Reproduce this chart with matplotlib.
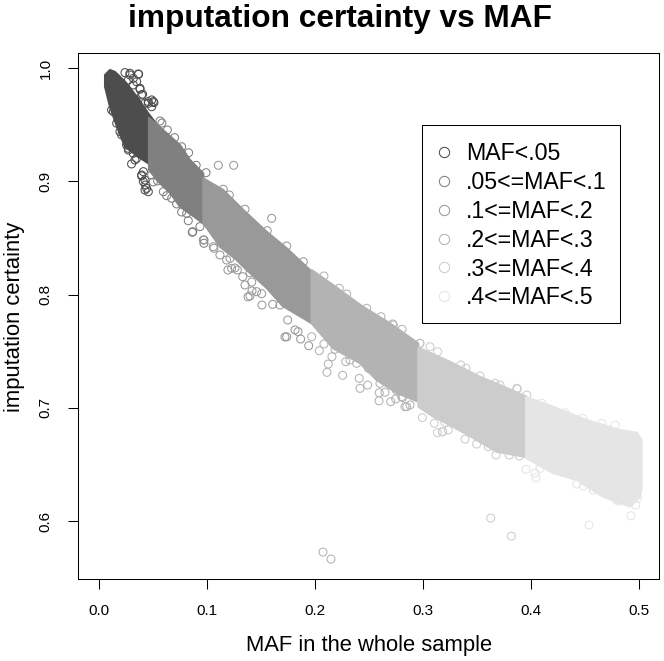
import matplotlib
matplotlib.use('Agg')
import matplotlib.pyplot as plt
from matplotlib.patches import Rectangle

plt.rcParams['font.family'] = ['Liberation Sans', 'DejaVu Sans']

labels = ['MAF<.05', '.05<=MAF<.1', '.1<=MAF<.2', '.2<=MAF<.3', '.3<=MAF<.4', '.4<=MAF<.5']
greys = ['#4d4d4d', '#808080', '#999999', '#b3b3b3', '#cccccc', '#e5e5e5']

# outline of the dense band of each group
top_x = [
    [.0056, .0102, .0148, .0241, .0364, .0456, .052],
    [.0463, .0627, .075, .0843, .0966],
    [.0966, .1151, .1336, .1553, .1738, .1954],
    [.1969, .2167, .2444, .2694, .2956],
    [.2956, .2972, .325, .3528, .3713, .396],
    [.3954, .4204, .4516, .4824, .4979, .5025],
]
top_y = [
    [.9938, .9982, .9965, .988, .973, .96, .952],
    [.956, .9424, .932, .9188, .907],
    [.9026, .8923, .8747, .8555, .8409, .8217],
    [.8217, .8085, .7893, .7747, .757],
    [.7526, .7526, .7408, .7275, .7202, .7099],
    [.7096, .7011, .6893, .6805, .6781, .6717],
]
low_x = [
    [.0056, .0102, .0167, .0241, .0364, .0456, .052],
    [.0463, .0565, .0657, .075, .0966],
    [.0966, .112, .1275, .1368, .1553, .17, .1969],
    [.1969, .2167, .2417, .2571, .2756, .2956],
    [.2956, .3095, .325, .3497, .3682, .3954],
    [.3954, .4204, .4423, .4667, .4917, .5009, .5025],
]
low_y = [
    [.9835, .9658, .9482, .9305, .9217, .9159, .912],
    [.91, .8982, .89, .8776, .863],
    [.8632, .8423, .8305, .8217, .8058, .79, .7747],
    [.7747, .7526, .7394, .7246, .7132, .7055],
    [.7011, .6922, .6849, .6717, .6613, .6567],
    [.6558, .6425, .6364, .6216, .6128, .6216, .63],
]

# single points outside the band
out_x = [
    [.0367, .0241, .0287, .0318, .038, .0404, .0488, .0509, .0457, .0302, .0333, .0395, .0411, .0432, .0426, .0457, .0411, .0133, .0194, .0272,
     .0287, .0364, .0272, .0349, .038, .0395, .0456, .0503, .0488, .0318, .0426,
     .0349, .0272, .0256, .021, .0164, .0117, .0318, .0395, .0426, .0441],
    [.0565, .0633, .083, .0765, .0991, .0543, .0596, .0673, .0719, .0812, .0827, .0864, .0935, .0972, .0972, .0868,
     .0583, .07, .09, .0488, .0503, .0627, .0765],
    [.1105, .1247, .1599, .1058, .112, .1194, .1259, .1352, .138, .1417, .1509, .1722, .1414, .146, .1506, .1398, .1608, .1676, .1747, .1738, .1815, .1843, .1867, .1942,
     .0966, .1065, .1182, .1213, .1228, .1281, .1331, .1398, .1207, .1352, .1558, .1738, .1892, .1151],
    [.204, .2083, .1969, .2157, .2123, .2111, .2256, .2284, .241, .2417, .2488, .2593, .2595, .2648, .2701, .2747, .2812, .2849, .288, .2083, .2293, .2611, .2719, .2806, .2972, .2074, .2148, .2833,
     .2185, .2324, .2386, .2494, .2602, .2756, .2803, .2225, .2479, .2725],
    [.3065, .3136, .2994, .3105, .3204, .3133, .318, .3234, .3182, .3389, .3497, .3676, .3799, .3892, .3627, .3818, .3873, .3528, .3667, .396,
     .3349, .3398, .3713, .3868, .3605],
    [.3954, .4037, .4046, .4083, .4423, .4484, .4577, .4537, .4926, .4969, .4809, .4985, .4778, .4099, .4315, .4479, .4655, .4793],
]
out_y = [
    [.9944, .9959, .9953, .9909, .9812, .9768, .9718, .9694, .9688, .9153, .9188, .9047, .8997, .8967, .8923, .8908, .9085, .9614, .9438, .9276,
     .9938, .9947, .9894, .9879, .9821, .9762, .9703, .9703, .9658, .985, .9688,
     .9203, .9291, .932, .9409, .9512, .9629, .9247, .9056, .9011, .8938],
    [.9532, .9453, .9252, .9305, .9076, .9003, .8908, .885, .88, .8717, .8652, .855, .86, .8482, .8453, .8555,
     .9514, .9385, .9141, .9056, .8994, .8873, .8729],
    [.9141, .9141, .8673, .8423, .835, .8217, .8235, .8085, .798, .8032, .7908, .7626, .8111, .8026, .8008, .7988, .7914, .7908, .7776, .7628, .7688, .7673, .7608, .7549,
     .8482, .8409, .8305, .832, .8232, .8217, .8158, .8193, .8879, .8753, .8564, .8429, .829, .893],
    [.7505, .7564, .7628, .7452, .7387, .7314, .7288, .7408, .7261, .7173, .7202, .7063, .7134, .7138, .7055, .7079, .7091, .7011, .7026, .8164, .8005, .7805, .7741, .7694, .757, .5728, .5666, .7011,
     .7517, .7423, .7394, .735, .7217, .7152, .7099, .8056, .7879, .7732],
    [.754, .7496, .6914, .6864, .6873, .6781, .679, .6805, .679, .6725, .6681, .6584, .6584, .6575, .6028, .5869, .7167, .7282, .7217, .7114,
     .7379, .735, .7202, .7173, .6658],
    [.6458, .6423, .6384, .6467, .6328, .6311, .6275, .5966, .6049, .6143, .6178, .6202, .6849, .7041, .6958, .6908, .6864, .6187],
]

fig = plt.figure(figsize=(6.64, 6.61), dpi=100)
ax = fig.add_axes([78 / 664, 1 - 578.7 / 661, (659 - 78) / 664, (578.7 - 53) / 661])

for i in range(6):
    xs = top_x[i] + low_x[i][::-1]
    ys = top_y[i] + low_y[i][::-1]
    ax.fill(xs, ys, color=greys[i], lw=1.5, joinstyle='round', zorder=2 + i)
    ax.scatter(out_x[i], out_y[i], s=33, facecolors='none', edgecolors=greys[i], linewidths=0.75, zorder=2 + i)
    # empty artist, only for the legend entry
    ax.plot([], [], 'o', ms=7.4, mfc='none', mec=greys[i], mew=0.75, label=labels[i])

ax.set_xlim(-0.0194, 0.5185)
ax.set_ylim(0.5493, 1.0132)
ax.set_xticks([0, .1, .2, .3, .4, .5])
ax.set_yticks([.6, .7, .8, .9, 1.0])
ax.set_xticklabels(['0.0', '0.1', '0.2', '0.3', '0.4', '0.5'])
ax.set_yticklabels(['0.6', '0.7', '0.8', '0.9', '1.0'], rotation=90, va='center')
ax.tick_params(length=7.2, width=0.75, labelsize=11, pad=11)
for s in ax.spines.values():
    s.set_linewidth(0.75)

fig.text(339.5 / 664, 1 - 27 / 661, 'imputation certainty vs MAF', fontsize=22.8, fontweight='bold', ha='center', va='baseline')
fig.text(369 / 664, 1 - 645 / 661, 'MAF in the whole sample', fontsize=15.8, ha='center', va='center')
fig.text(15 / 664, 1 - 317 / 661, 'imputation certainty', fontsize=15.8, rotation=90, ha='center', va='center')

# legend box drawn on its own so the rows can sit lower inside it
ax.add_patch(Rectangle((422 / 664, 1 - 323 / 661), 198 / 664, 198 / 661, transform=fig.transFigure,
                       fc='white', ec='black', lw=0.75, zorder=19))
leg = ax.legend(loc='upper left', bbox_to_anchor=((422 - 78) / 581, 1 - (128 - 53) / 525.7), borderaxespad=0,
                fontsize=16.7, frameon=False, labelspacing=0.255, handletextpad=0.61, borderpad=0.6, handlelength=0.69)
leg.set_zorder(20)

fig.savefig('out.png', dpi=100)
